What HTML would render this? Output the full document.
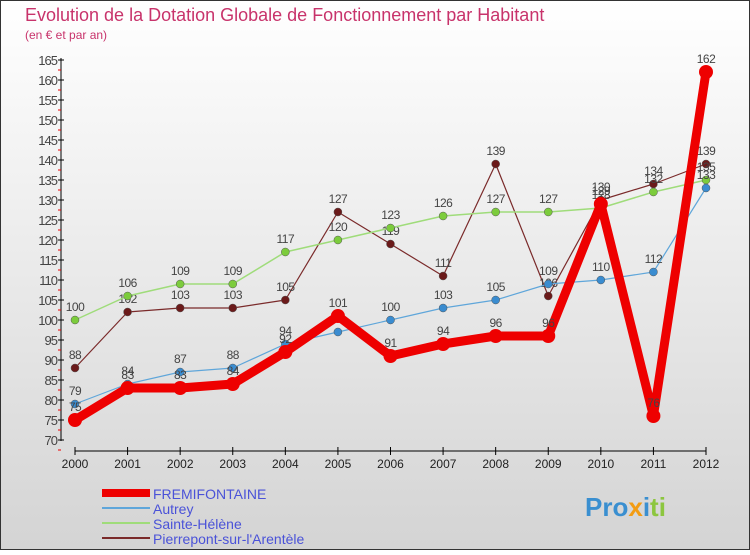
<!DOCTYPE html>
<html><head><meta charset="utf-8"><style>
body{margin:0;width:750px;height:550px;overflow:hidden;font-family:"Liberation Sans",sans-serif}
</style></head><body>
<svg id="c" width="750" height="550" xmlns="http://www.w3.org/2000/svg">
<defs><linearGradient id="bg" x1="0" y1="0" x2="0" y2="1"><stop offset="0" stop-color="#ffffff"/><stop offset="1" stop-color="#d4d4d4"/></linearGradient></defs>
<rect x="0.5" y="0.5" width="749" height="549" fill="url(#bg)" stroke="#333"/>
<text x="25" y="21" font-size="18" fill="#c8336b">Evolution de la Dotation Globale de Fonctionnement par Habitant</text>
<text x="25" y="39" font-size="12" fill="#c8336b">(en € et par an)</text>
<g id="axes"></g><g id="series"></g><g id="legend"></g>
<text x="585" y="516" font-size="26" font-weight="bold" fill="#3a8fd0">Pro<tspan fill="#f39c12">x</tspan><tspan fill="#3a8fd0">i</tspan><tspan fill="#8cc63f">ti</tspan></text>
</svg>
<script>
const years=[2000,2001,2002,2003,2004,2005,2006,2007,2008,2009,2010,2011,2012];
const yTicks=[70,75,80,85,90,95,100,105,110,115,120,125,130,135,140,145,150,155,160,165];
const fremifontaine=[75,83,83,84,92,101,91,94,96,96,129,76,162];
const autrey=[79,84,87,88,94,97,100,103,105,109,110,112,133];
const sainteHelene=[100,106,109,109,117,120,123,126,127,127,128,132,135];
const pierrepont=[88,102,103,103,105,127,119,111,139,106,130,134,139];
const NS="http://www.w3.org/2000/svg";
const X=i=>75+i*(706-75)/12;
const Y=v=>440-(v-70)*4;
function mk(t,a,p){const e=document.createElementNS(NS,t);for(const k in a)e.setAttribute(k,a[k]);p.appendChild(e);return e;}
const ax=document.getElementById('axes');
let e=mk('line',{x1:61,y1:58,x2:61,y2:441,stroke:'#000'},ax);


yTicks.forEach(v=>{
 mk('line',{x1:58,x2:64,y1:Y(v),y2:Y(v),stroke:'#000'},ax);
 mk('line',{x1:58,x2:61,y1:Y(v)+10,y2:Y(v)+10,stroke:'#e00'},ax);
 const t=mk('text',{x:57,y:Y(v)+5,'text-anchor':'end','font-size':13,fill:'#444','letter-spacing':'-1'},ax);
 t.textContent=v;
 
 
});
e=mk('line',{x1:75,y1:451,x2:706,y2:451,stroke:'#000'},ax);


years.forEach((y,i)=>{
 mk('line',{x1:X(i),x2:X(i),y1:447,y2:455,stroke:'#000'},ax);
 const t=mk('text',{x:X(i),y:468,'text-anchor':'middle','font-size':12,fill:'#222'},ax);
 t.textContent=y;
 
 
});
const S=[
 {n:'Pierrepont-sur-l\'Arentèle',d:pierrepont,c:'#7a2a2a',m:'#6b1a1a',w:1.2,r:4,id:'pierrepont'},
 {n:'Sainte-Hélène',d:sainteHelene,c:'#9fdc7a',m:'#7ccc3c',w:1.5,r:4,id:'sainte-helene'},
 {n:'Autrey',d:autrey,c:'#5fa6da',m:'#3a8cd0',w:1.2,r:4,id:'autrey'},
 {n:'FREMIFONTAINE',d:fremifontaine,c:'#ee0000',m:'#ee0000',w:9,r:7,id:'fremifontaine'}
];
const sg=document.getElementById('series');
S.forEach(s=>{
 const g=mk('g',{},sg);
 
 
 const l=mk('polyline',{points:s.d.map((v,i)=>X(i)+','+Y(v)).join(' '),fill:'none',stroke:s.c,'stroke-width':s.w,'stroke-linejoin':'round'},g);
 
 
 s.d.forEach((v,i)=>{
  const p=mk('circle',{cx:X(i),cy:Y(v),r:s.r,fill:s.m,stroke:s.id=='fremifontaine'?'none':'#555','stroke-width':0.5},g);
  
  
  const t=mk('text',{x:X(i),y:Y(v)-9,'text-anchor':'middle','font-size':12,fill:'#444','letter-spacing':'-0.5'},g);
  t.textContent=v;
  
  
 });
});
const lg=document.getElementById('legend');
[S[3],S[2],S[1],S[0]].forEach((s,k)=>{
 const y=493+k*15;
 const g=mk('g',{},lg);
 
 
 mk('line',{x1:102,x2:150,y1:y,y2:y,stroke:s.c,'stroke-width':s.id=='fremifontaine'?8:2},g);
 const t=mk('text',{x:153,y:y+6,'font-size':14,fill:'#4a52d8'},g);
 t.textContent=s.n;
});
</script>
</body></html>
